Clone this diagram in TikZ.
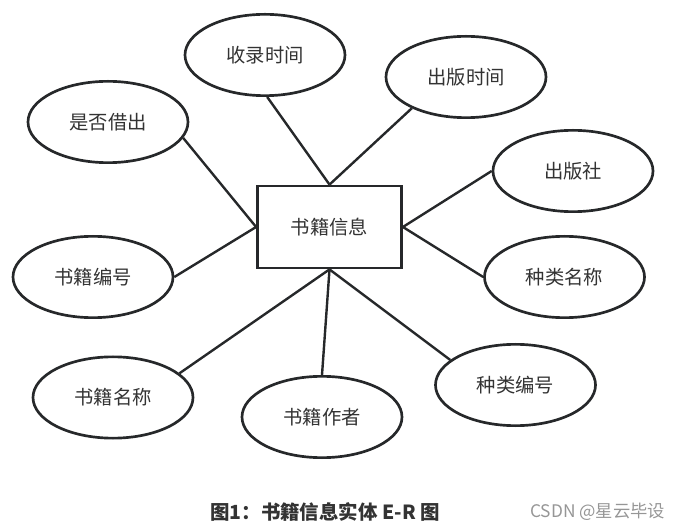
\documentclass[tikz,border=0pt]{standalone}
\usepackage{fontspec}
\setmainfont{Noto Sans CJK SC}
\newfontfamily\cjk{Noto Sans CJK SC}
\usetikzlibrary{shapes.geometric}
\definecolor{ink}{RGB}{38,40,42}
\definecolor{txt}{RGB}{51,51,51}
\definecolor{wm}{RGB}{150,150,150}
\tikzset{
  attr/.style={ellipse, draw=ink, line width=2pt, fill=white, inner sep=0pt,
    minimum width=120pt, minimum height=61pt, font=\cjk\fontsize{14.5pt}{16pt}\selectfont, text=txt},
  entity/.style={rectangle, draw=ink, line width=2.1pt, fill=white, inner sep=0pt,
    minimum width=108pt, minimum height=61.5pt, font=\cjk\fontsize{14.5pt}{16pt}\selectfont, text=txt},
  link/.style={draw=ink, line width=1.8pt}
}
\begin{document}
\begin{tikzpicture}[x=0.75pt,y=-0.75pt]
\useasboundingbox (0,0) rectangle (681,530);
\node[entity] (e) at (329.5,227) {书籍信息};
\node[attr] (a1) at (265,55) {收录时间};
\node[attr] (a2) at (466,77) {出版时间};
\node[attr] (a3) at (108,122) {是否借出};
\node[attr] (a4) at (573,171) {出版社};
\node[attr] (a5) at (93,277) {书籍编号};
\node[attr] (a6) at (564.5,277) {种类名称};
\node[attr] (a7) at (113,397.5) {书籍名称};
\node[attr] (a8) at (322,417) {书籍作者};
\node[attr] (a9) at (515.5,385) {种类编号};
\draw[link] (e.north) -- (a1.-87);
\draw[link] (e.north) -- (a2.210);
\draw[link] (e.west) -- (a3.-12);
\draw[link] (e.west) -- (a5.east);
\draw[link] (e.east) -- (a4.west);
\draw[link] (e.east) -- (a6.west);
\draw[link] (e.south) -- (a7.20);
\draw[link] (e.south) -- (a8.north);
\draw[link] (e.south) -- (a9.159);
\node[font=\cjk\bfseries\fontsize{14.6pt}{16pt}\selectfont, text=txt, anchor=west, inner sep=0pt] (cap) at (210,512) {图1：书籍信息实体 E-R 图};
\node[font=\cjk\fontsize{13pt}{15pt}\selectfont, text=wm, anchor=west, inner sep=0pt] (mark) at (530,512) {CSDN @星云毕设};
\end{tikzpicture}
\end{document}
